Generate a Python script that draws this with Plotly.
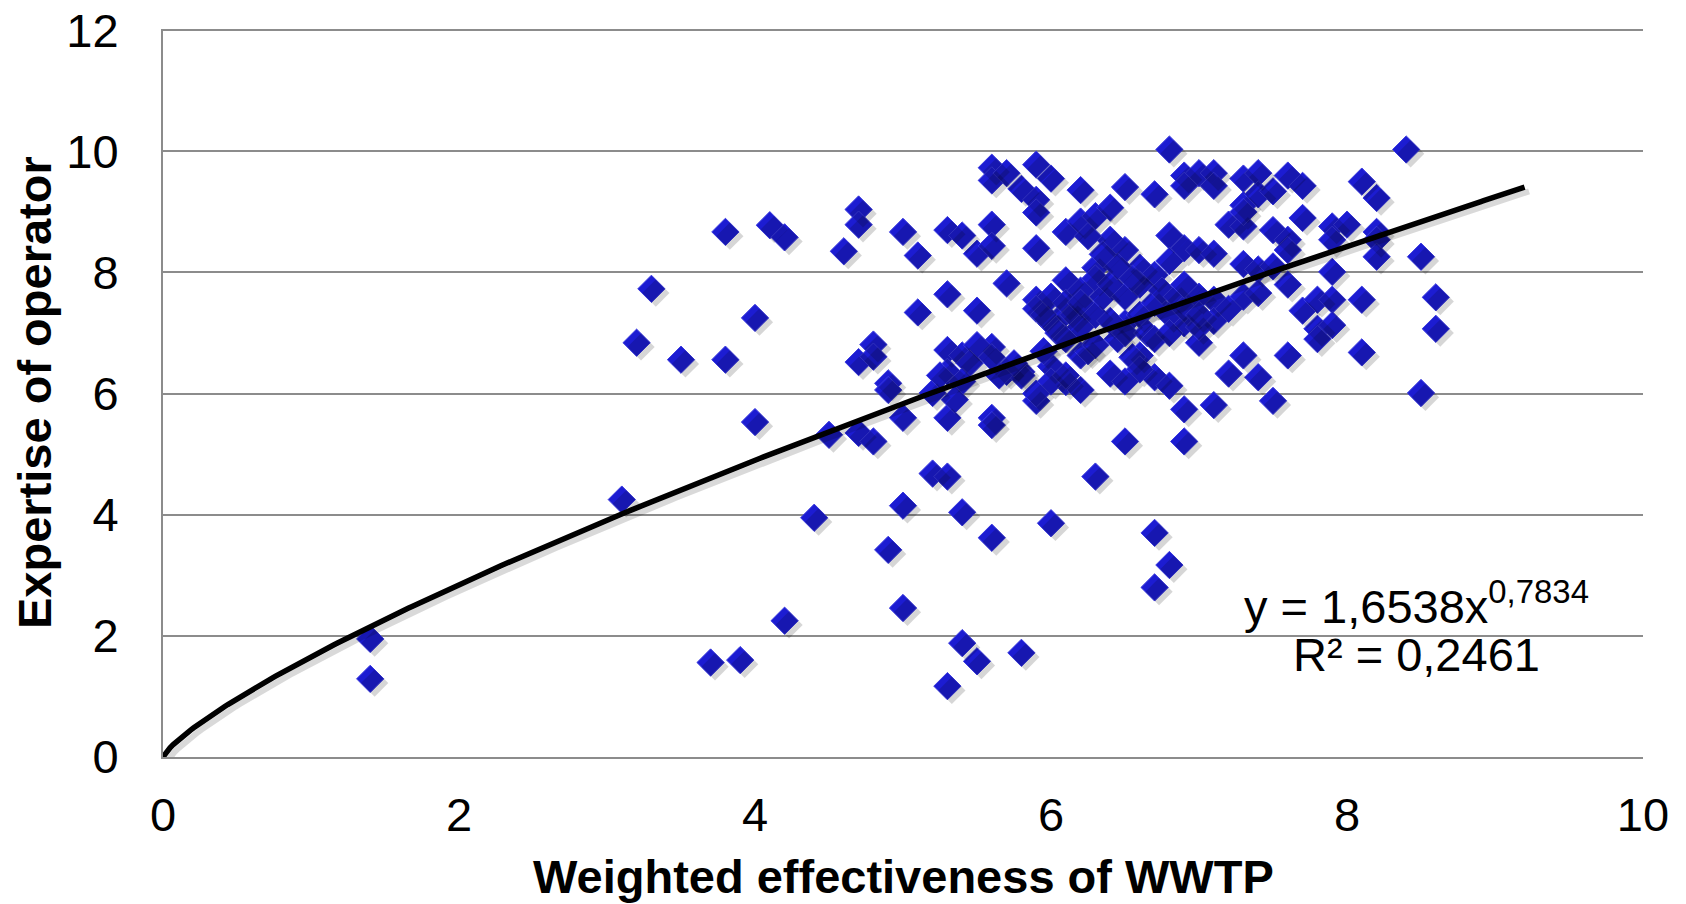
import numpy as np
import plotly.graph_objects as go

# Scatter data (Weighted effectiveness of WWTP, Expertise of operator)
effectiveness = [
    1.40, 1.40, 3.10, 3.30, 3.20, 3.50, 3.70, 3.80, 3.80, 3.90, 4.00, 4.00, 4.10, 4.20, 4.20,
    4.40, 4.50, 4.60, 4.70, 4.70, 4.70, 4.70, 4.80, 4.80, 4.80, 4.90, 4.90, 4.90, 5.00, 5.00,
    5.00, 5.00, 5.10, 5.10, 5.20, 5.20, 5.30, 5.30, 5.30, 5.30, 5.30, 5.30, 5.30, 5.40, 5.40,
    5.40, 5.40, 5.50, 5.50, 5.50, 5.60, 5.60, 5.60, 5.60, 5.60, 5.60, 5.60, 5.60, 5.70, 5.70,
    5.70, 5.80, 5.80, 5.80, 5.90, 5.90, 5.90, 5.90, 5.90, 5.90, 6.00, 6.00, 6.00, 6.00, 6.10,
    6.10, 6.10, 6.10, 6.20, 6.20, 6.20, 6.20, 6.30, 6.30, 6.30, 6.40, 6.40, 6.40, 6.50, 6.50,
    6.50, 6.50, 6.60, 6.60, 6.70, 6.70, 6.70, 6.70, 6.70, 6.80, 6.80, 6.80, 6.80, 6.80, 6.90,
    6.90, 6.90, 6.90, 6.90, 6.90, 7.00, 7.00, 7.00, 7.10, 7.10, 7.10, 7.10, 7.10, 7.10, 7.20,
    7.20, 7.30, 7.30, 7.30, 7.30, 7.30, 7.30, 7.40, 7.40, 7.40, 7.40, 7.40, 7.50, 7.50, 7.50,
    7.60, 7.60, 7.60, 7.60, 7.70, 7.70, 7.70, 7.80, 7.80, 7.80, 7.90, 7.90, 7.90, 7.90, 7.90,
    8.00, 8.10, 8.10, 8.10, 8.20, 8.20, 8.20, 8.20, 8.40, 8.50, 8.50, 8.60, 8.60,
    5.90, 5.95, 6.00, 6.05, 6.10, 6.10, 6.15, 6.20, 6.20, 6.25, 6.30, 6.30, 6.35, 6.40, 6.40,
    6.45, 6.50, 6.50, 6.55, 6.60, 6.60, 6.60, 6.65, 6.70, 6.70, 6.75, 6.80, 6.80, 6.85, 6.90,
    7.00, 7.00, 5.80, 5.75, 5.65, 5.50, 5.45, 5.40, 5.35, 5.25, 5.60, 6.00, 6.10, 6.20, 6.30,
    5.90, 5.95, 6.50, 6.45, 6.55, 6.35, 6.25, 7.30, 7.20, 7.50, 7.60, 6.90, 7.00,
]
expertise = [
    1.95, 1.29, 4.25, 7.73, 6.84, 6.56, 1.56, 8.67, 6.56, 1.60, 7.25, 5.53, 8.78, 8.58, 2.25,
    3.95, 5.32, 8.35, 9.04, 8.79, 6.52, 5.35, 6.81, 6.61, 5.21, 6.17, 6.06, 3.42, 8.67, 5.60,
    4.15, 2.46, 8.28, 7.34, 4.68, 6.01, 8.70, 7.64, 6.72, 6.36, 5.60, 4.63, 1.17, 8.61, 4.04,
    1.88, 6.63, 8.31, 7.37, 1.58, 9.73, 9.52, 8.79, 8.44, 6.77, 5.60, 5.48, 3.62, 9.64, 7.82,
    6.36, 9.38, 1.72, 6.36, 9.78, 9.20, 8.99, 8.40, 7.55, 5.88, 9.55, 3.86, 7.16, 6.45, 8.67,
    7.87, 7.34, 6.19, 9.36, 8.84, 6.63, 6.06, 8.08, 4.63, 8.93, 9.07, 8.54, 6.33, 9.41, 5.21,
    8.37, 7.16, 8.08, 6.63, 9.29, 3.70, 2.80, 7.96, 6.27, 10.03, 8.61, 8.19, 6.13, 3.17, 9.60,
    9.43, 8.40, 7.16, 5.74, 5.21, 9.64, 8.37, 6.84, 9.64, 9.43, 8.31, 7.55, 7.20, 5.81, 8.79,
    6.33, 9.55, 9.11, 8.76, 8.14, 7.60, 6.63, 9.64, 9.29, 8.05, 7.66, 6.27, 9.34, 8.70, 5.88,
    9.60, 8.54, 8.37, 6.63, 9.43, 8.90, 7.37, 7.55, 7.07, 6.90, 8.76, 8.54, 8.01, 7.55, 7.13,
    8.79, 9.50, 7.55, 6.68, 9.23, 8.67, 8.54, 8.26, 10.03, 8.26, 6.01, 7.59, 7.07,
    7.40, 7.30, 7.60, 7.00, 7.50, 6.90, 7.30, 7.70, 7.10, 6.70, 7.90, 7.30, 7.60, 7.80, 7.20,
    6.90, 7.60, 7.00, 6.60, 7.80, 7.30, 6.40, 7.00, 7.50, 6.90, 7.70, 7.30, 7.00, 7.60, 7.40,
    7.60, 7.10, 6.30, 6.50, 6.30, 6.80, 6.50, 6.20, 5.90, 6.30, 6.60, 6.20, 6.30, 7.50, 6.80,
    6.00, 6.70, 6.20, 8.10, 7.90, 8.30, 8.60, 9.00, 7.40, 8.10, 7.80, 7.80, 7.30,
]

# Power trend line reported on the chart: y = a * x^b
trend_a = 1.6538
trend_b = 0.7834
trend_x_max = 9.2

x_ticks = [0, 2, 4, 6, 8, 10]
y_ticks = [0, 2, 4, 6, 8, 10, 12]

x_title = "Weighted effectiveness of WWTP"
y_title = "Expertise of operator"

tx = np.linspace(0, trend_x_max, 400)
ty = trend_a * tx ** trend_b

FONT = "Liberation Sans, Arial, Helvetica"
Y_RANGE = [0, 12.02]

fig = go.Figure()
# soft shadow for markers
fig.add_trace(go.Scatter(
    x=effectiveness, y=expertise, mode="markers",
    marker=dict(symbol="diamond", size=21, color="rgba(0,0,0,0.16)", line=dict(width=0)),
    hoverinfo="skip", showlegend=False, xaxis="x2", yaxis="y2",
))
# soft shadow for trend line
fig.add_trace(go.Scatter(
    x=tx, y=ty, mode="lines", line=dict(color="rgba(0,0,0,0.15)", width=6),
    showlegend=False, hoverinfo="skip", xaxis="x2", yaxis="y2",
))
fig.add_trace(go.Scatter(
    x=effectiveness, y=expertise, mode="markers",
    marker=dict(symbol="diamond", size=21, color="#1c1cd2",
                line=dict(width=1, color="#3b3be0")),
    showlegend=False,
))
fig.add_trace(go.Scatter(
    x=tx, y=ty, mode="lines", line=dict(color="black", width=5.5),
    showlegend=False, hoverinfo="skip",
))

fig.add_annotation(x=8.47, y=2.55, xref="x", yref="y",
                   text="y = 1,6538x<sup>0,7834</sup>", showarrow=False,
                   font=dict(size=47, color="black", family=FONT))
fig.add_annotation(x=8.47, y=1.70, xref="x", yref="y",
                   text="R² = 0,2461", showarrow=False,
                   font=dict(size=47, color="black", family=FONT))

# axis titles
fig.add_annotation(x=0.5, y=0, xref="paper", yref="paper", yshift=-119,
                   text="<b>" + x_title + "</b>", showarrow=False,
                   xanchor="center", yanchor="middle",
                   font=dict(size=47, color="black", family=FONT))
fig.add_annotation(x=0, y=0.5, xref="paper", yref="paper", xshift=-129,
                   text="<b>" + y_title + "</b>", showarrow=False, textangle=-90,
                   xanchor="center", yanchor="middle",
                   font=dict(size=47, color="black", family=FONT))

fig.update_layout(
    width=1686, height=904, autosize=False,
    paper_bgcolor="white", plot_bgcolor="white",
    margin=dict(l=155, r=51, t=21, b=155),
    font=dict(family=FONT, color="black"),
    xaxis=dict(range=[0, 10], tickvals=x_ticks, showgrid=False, zeroline=False,
               showline=True, linecolor="#8c8c8c", linewidth=2, ticks="",
               tickfont=dict(size=47), automargin=False, ticklabelstandoff=16,
               ticklabeloverflow="allow"),
    yaxis=dict(range=Y_RANGE, tickvals=y_ticks, showgrid=True, gridcolor="#8c8c8c",
               gridwidth=2, zeroline=False, showline=True, linecolor="#8c8c8c",
               linewidth=2, ticks="", tickfont=dict(size=47), automargin=False,
               ticklabelstandoff=33, ticklabeloverflow="allow"),
    xaxis2=dict(range=[0 - 0.03, 10 - 0.03], overlaying="x", visible=False),
    yaxis2=dict(range=[Y_RANGE[0] + 0.07, Y_RANGE[1] + 0.07], overlaying="y", visible=False),
)

fig.write_html("out.html")
